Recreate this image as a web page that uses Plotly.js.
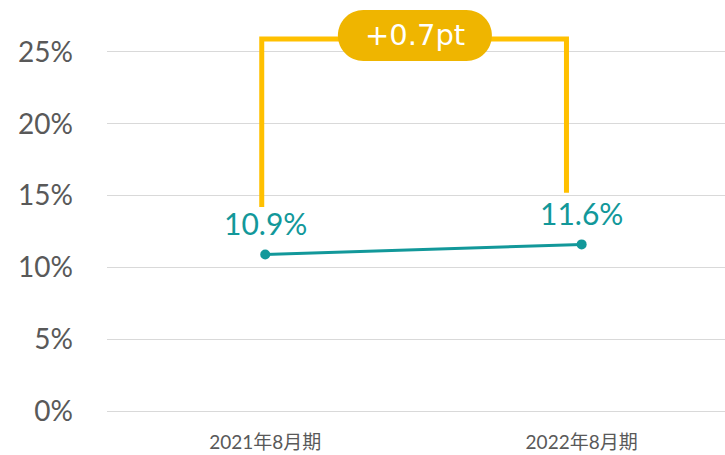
<!DOCTYPE html>
<html>
<head>
<meta charset="utf-8">
<script src="https://cdn.plot.ly/plotly-3.0.1.min.js"></script>
<style>html,body{margin:0;padding:0;background:#fff;}#chart{width:725px;height:455px;}</style>
</head>
<body>
<div id="chart"></div>
<script>
const categories = ["2021年8月期", "2022年8月期"];
const values = [10.9, 11.6];
const yTickVals = [0, 5, 10, 15, 20, 25];
const yTickText = ["0%", "5%", "10%", "15%", "20%", "25%"];

const teal = "#12989A";
const gold = "#FFC000";
const pillColor = "#EFB500";

const delta = values[1] - values[0];
const deltaText = (delta >= 0 ? "+" : "") + delta.toFixed(1) + "pt";

const trace = {
  x: [0, 1],
  y: values,
  type: "scatter",
  mode: "lines+markers",
  line: {color: teal, width: 3},
  marker: {color: teal, size: 10},
  hoverinfo: "skip",
  cliponaxis: false
};

const bracketTop = 25.9;
const leftX = -0.011, rightX = 0.952;
const pillX = 0.473, pillY = 26.15;

const annotations = values.map((v, i) => ({
  x: i, y: v, xref: "x", yref: "y",
  text: v.toFixed(1) + "%",
  showarrow: false,
  yshift: 31,
  font: {family: "Lato, Carlito, sans-serif", size: 30, color: teal}
}));
annotations.push({
  x: pillX, y: pillY, xref: "x", yref: "y",
  text: deltaText, showarrow: false,
  font: {family: "DejaVu Sans, sans-serif", size: 29, color: "#ffffff"}
});

const hw = 77, hh = 25.5, r = 25.5, k = 0.5523 * r, s = hw - r;
const pillPath = `M ${-s},${-hh} L ${s},${-hh} C ${s + k},${-hh} ${hw},${-k} ${hw},0 C ${hw},${k} ${s + k},${hh} ${s},${hh} L ${-s},${hh} C ${-s - k},${hh} ${-hw},${k} ${-hw},0 C ${-hw},${-k} ${-s - k},${-hh} ${-s},${-hh} Z`;

const shapes = [
  {
    type: "path", xref: "x", yref: "y", layer: "above",
    path: `M ${leftX},${values[0] + 3.3} L ${leftX},${bracketTop} L ${rightX},${bracketTop} L ${rightX},${values[1] + 3.6}`,
    line: {color: gold, width: 5}
  },
  {
    type: "path", xref: "x", yref: "y", layer: "above",
    xsizemode: "pixel", ysizemode: "pixel", xanchor: pillX, yanchor: pillY,
    path: pillPath,
    fillcolor: pillColor, line: {width: 0}
  }
];

const layout = {
  width: 725, height: 455,
  margin: {l: 107, r: 0, t: 2, b: 44},
  paper_bgcolor: "#ffffff", plot_bgcolor: "#ffffff",
  showlegend: false,
  xaxis: {
    range: [-0.5, 1.453],
    tickvals: [0, 1], ticktext: categories,
    showgrid: false, zeroline: false, showline: false,
    ticks: "", ticklabelstandoff: 18,
    tickfont: {family: "Lato, 'Noto Sans CJK JP', sans-serif", size: 19, color: "#595959"},
    fixedrange: true
  },
  yaxis: {
    range: [0, 28.48],
    tickvals: yTickVals, ticktext: yTickText,
    showgrid: true, gridcolor: "#D9D9D9", gridwidth: 1,
    zeroline: true, zerolinecolor: "#D9D9D9", zerolinewidth: 1,
    showline: false, ticks: "", ticklabelstandoff: 33,
    tickfont: {family: "Lato, Carlito, sans-serif", size: 28, color: "#595959"},
    fixedrange: true
  },
  annotations: annotations,
  shapes: shapes
};

Plotly.newPlot("chart", [trace], layout, {displayModeBar: false, staticPlot: true});
</script>
</body>
</html>
